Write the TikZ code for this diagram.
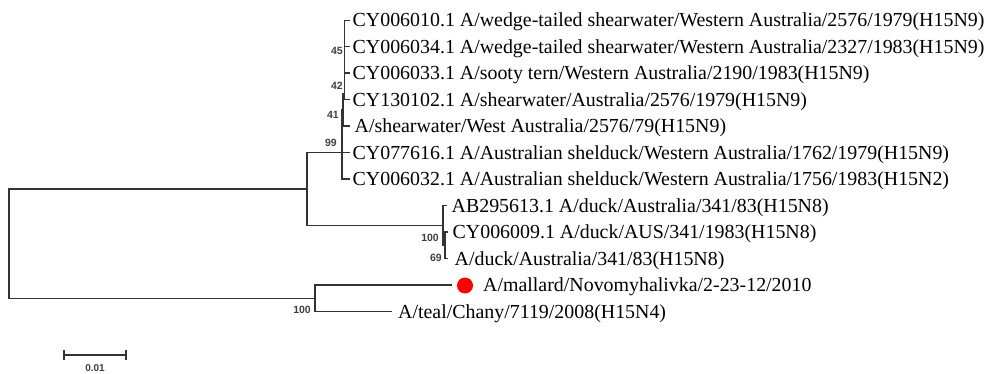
\documentclass[tikz,border=0pt]{standalone}
\usepackage{fontspec}
\setmainfont{Liberation Serif}
\newfontfamily\bsfont{Liberation Sans}
\begin{document}
\begin{tikzpicture}[x=1pt,y=-1pt,
  branch/.style={line width=1.4pt,draw=black!80},
  taxon/.style={anchor=base west,inner sep=0pt,font=\fontsize{19.9}{22}\selectfont},
  boot/.style={anchor=base east,inner sep=0pt,font=\bsfont\bfseries\fontsize{10.5}{12}\selectfont,text=black!75},
  scalelbl/.style={anchor=base,inner sep=0pt,font=\bsfont\bfseries\fontsize{10}{11}\selectfont,text=black!75}]
\useasboundingbox (0,0) rectangle (993,374);
% internal nodes
\coordinate (R) at (9,243.6);
\coordinate (T) at (307,189);
\coordinate (B) at (315,298.3);
\coordinate (n99) at (342,152.5);
\coordinate (n41) at (343,110);
\coordinate (n42) at (344.5,94);
\coordinate (n100) at (443,225.5);
\coordinate (n69) at (445,245.3);
% leaf tips
\coordinate (t0) at (350,20.3);
\coordinate (t1) at (350,46.8);
\coordinate (t2) at (350,73.2);
\coordinate (t3) at (350,99.7);
\coordinate (t4) at (350,126.2);
\coordinate (t5) at (350,152.7);
\coordinate (t6) at (350,179.1);
\coordinate (t7) at (447,205.6);
\coordinate (t8) at (448,232.1);
\coordinate (t9) at (448,258.5);
\coordinate (t10) at (452,285);
\coordinate (t11) at (392,311.5);
% branches
\draw[branch] (R) |- (T);
\draw[branch] (R) |- (B);
\draw[branch] (T) |- (n99);
\draw[branch] (T) |- (n100);
\draw[branch] (n99) |- (n41);
\draw[branch] (n99) |- (t5);
\draw[branch] (n99) |- (t6);
\draw[branch] (n41) |- (n42);
\draw[branch] (n41) |- (t4);
\draw[branch] (n42) |- (t0);
\draw[branch] (n42) |- (t1);
\draw[branch] (n42) |- (t2);
\draw[branch] (n42) |- (t3);
\draw[branch] (n100) |- (t7);
\draw[branch] (n100) |- (n69);
\draw[branch] (n69) |- (t8);
\draw[branch] (n69) |- (t9);
\draw[branch] (B) |- (t10);
\draw[branch] (B) |- (t11);
% taxa
\node[taxon] (L0) at (352.5,27.0) {CY006010.1 A/wedge-tailed shearwater/Western Australia/2576/1979(H15N9)};
\node[taxon] (L1) at (352.5,53.5) {CY006034.1 A/wedge-tailed shearwater/Western Australia/2327/1983(H15N9)};
\node[taxon] (L2) at (352.5,79.9) {CY006033.1 A/sooty tern/Western Australia/2190/1983(H15N9)};
\node[taxon] (L3) at (352.5,106.4) {CY130102.1 A/shearwater/Australia/2576/1979(H15N9)};
\node[taxon] (L4) at (354.5,132.9) {A/shearwater/West Australia/2576/79(H15N9)};
\node[taxon] (L5) at (352.5,159.4) {CY077616.1 A/Australian shelduck/Western Australia/1762/1979(H15N9)};
\node[taxon] (L6) at (352.5,185.8) {CY006032.1 A/Australian shelduck/Western Australia/1756/1983(H15N2)};
\node[taxon] (L7) at (451.5,212.3) {AB295613.1 A/duck/Australia/341/83(H15N8)};
\node[taxon] (L8) at (452.5,238.8) {CY006009.1 A/duck/AUS/341/1983(H15N8)};
\node[taxon] (L9) at (454.5,265.2) {A/duck/Australia/341/83(H15N8)};
\node[taxon] (L10) at (483,291.7) {A/mallard/Novomyhalivka/2-23-12/2010};
\node[taxon] (L11) at (398,318.2) {A/teal/Chany/7119/2008(H15N4)};
% red marker
\node[circle,fill=red,inner sep=0pt,minimum size=16pt] (dot) at (465,285.5) {};
% bootstrap values
\node[boot] (b45) at (343,54.3) {45};
\node[boot] (b42) at (343,89.3) {42};
\node[boot] (b41) at (339,118.3) {41};
\node[boot] (b99) at (337,146.8) {99};
\node[boot] (b100a) at (439,241.8) {100};
\node[boot] (b69) at (442,261.3) {69};
\node[boot] (b100b) at (311,313.3) {100};
% scale bar
\coordinate (s1) at (64,355);
\coordinate (s2) at (126,355);
\draw[branch] (s1) -- (s2);
\draw[branch] ([yshift=-5pt]s1) -- ([yshift=5pt]s1);
\draw[branch] ([yshift=-5pt]s2) -- ([yshift=5pt]s2);
\node[scalelbl] (sl) at (95,371.6) {0.01};
\end{tikzpicture}
\end{document}
